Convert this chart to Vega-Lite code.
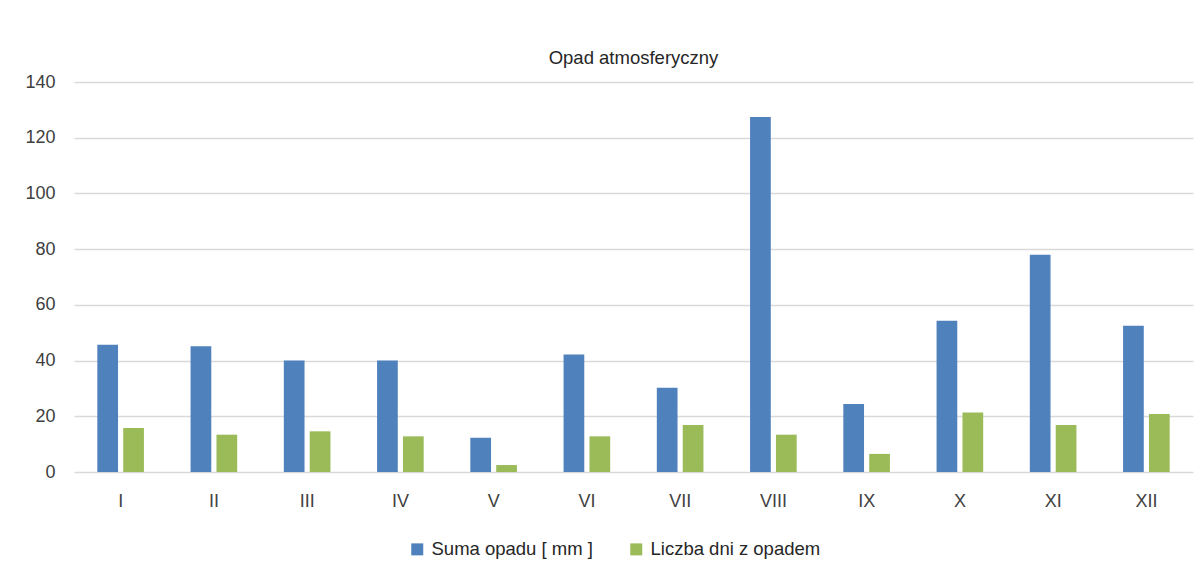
{
  "$schema": "https://vega.github.io/schema/vega-lite/v6.json",
  "autosize": "none",
  "width": 1119,
  "height": 390,
  "padding": {"left": 74, "top": 82, "right": 9, "bottom": 97},
  "background": "#ffffff",
  "title": {
    "text": "Opad atmosferyczny",
    "font": "Liberation Sans",
    "fontSize": 18.5,
    "fontWeight": "normal",
    "color": "#262626",
    "anchor": "middle",
    "offset": 6
  },
  "data": {
    "values": [
      {"month": "I", "series": "Suma opadu [ mm ]", "value": 45.7},
      {"month": "I", "series": "Liczba dni z opadem", "value": 15.8},
      {"month": "II", "series": "Suma opadu [ mm ]", "value": 45.1},
      {"month": "II", "series": "Liczba dni z opadem", "value": 13.4},
      {"month": "III", "series": "Suma opadu [ mm ]", "value": 40.0},
      {"month": "III", "series": "Liczba dni z opadem", "value": 14.6},
      {"month": "IV", "series": "Suma opadu [ mm ]", "value": 40.0},
      {"month": "IV", "series": "Liczba dni z opadem", "value": 12.8},
      {"month": "V", "series": "Suma opadu [ mm ]", "value": 12.3},
      {"month": "V", "series": "Liczba dni z opadem", "value": 2.5},
      {"month": "VI", "series": "Suma opadu [ mm ]", "value": 42.2},
      {"month": "VI", "series": "Liczba dni z opadem", "value": 12.8},
      {"month": "VII", "series": "Suma opadu [ mm ]", "value": 30.2},
      {"month": "VII", "series": "Liczba dni z opadem", "value": 16.9},
      {"month": "VIII", "series": "Suma opadu [ mm ]", "value": 127.4},
      {"month": "VIII", "series": "Liczba dni z opadem", "value": 13.4},
      {"month": "IX", "series": "Suma opadu [ mm ]", "value": 24.4},
      {"month": "IX", "series": "Liczba dni z opadem", "value": 6.5},
      {"month": "X", "series": "Suma opadu [ mm ]", "value": 54.3},
      {"month": "X", "series": "Liczba dni z opadem", "value": 21.4},
      {"month": "XI", "series": "Suma opadu [ mm ]", "value": 78.0},
      {"month": "XI", "series": "Liczba dni z opadem", "value": 16.9},
      {"month": "XII", "series": "Suma opadu [ mm ]", "value": 52.5},
      {"month": "XII", "series": "Liczba dni z opadem", "value": 20.8}
    ]
  },
  "mark": {"type": "bar"},
  "encoding": {
    "x": {
      "field": "month",
      "type": "nominal",
      "sort": ["I", "II", "III", "IV", "V", "VI", "VII", "VIII", "IX", "X", "XI", "XII"],
      "scale": {"paddingInner": 0.5, "paddingOuter": 0.25},
      "axis": {
        "title": null,
        "labelAngle": 0,
        "domain": false,
        "ticks": false,
        "grid": false,
        "labelPadding": 20,
        "labelFont": "Liberation Sans",
        "labelFontSize": 18,
        "labelColor": "#404040"
      }
    },
    "xOffset": {
      "field": "series",
      "type": "nominal",
      "sort": ["Suma opadu [ mm ]", "Liczba dni z opadem"],
      "scale": {"paddingInner": 0.2, "paddingOuter": 0}
    },
    "y": {
      "field": "value",
      "type": "quantitative",
      "scale": {"domain": [0, 140], "nice": false},
      "axis": {
        "title": null,
        "values": [0, 20, 40, 60, 80, 100, 120, 140],
        "domain": false,
        "ticks": false,
        "grid": true,
        "gridColor": "#d9d9d9",
        "gridWidth": 1.3,
        "labelPadding": 19,
        "labelFont": "Liberation Sans",
        "labelFontSize": 18,
        "labelColor": "#404040"
      }
    },
    "color": {
      "field": "series",
      "type": "nominal",
      "sort": ["Suma opadu [ mm ]", "Liczba dni z opadem"],
      "scale": {
        "domain": ["Suma opadu [ mm ]", "Liczba dni z opadem"],
        "range": ["#4F81BD", "#9BBB59"]
      },
      "legend": {
        "title": null,
        "orient": "none",
        "direction": "horizontal",
        "legendX": 334,
        "legendY": 458,
        "symbolType": "square",
        "symbolSize": 144,
        "symbolStrokeWidth": 0,
        "labelFont": "Liberation Sans",
        "labelFontSize": 18.5,
        "labelColor": "#262626",
        "labelOffset": 5,
        "columnPadding": 34,
        "labelLimit": 400
      }
    }
  },
  "config": {
    "view": {"stroke": null}
  }
}
